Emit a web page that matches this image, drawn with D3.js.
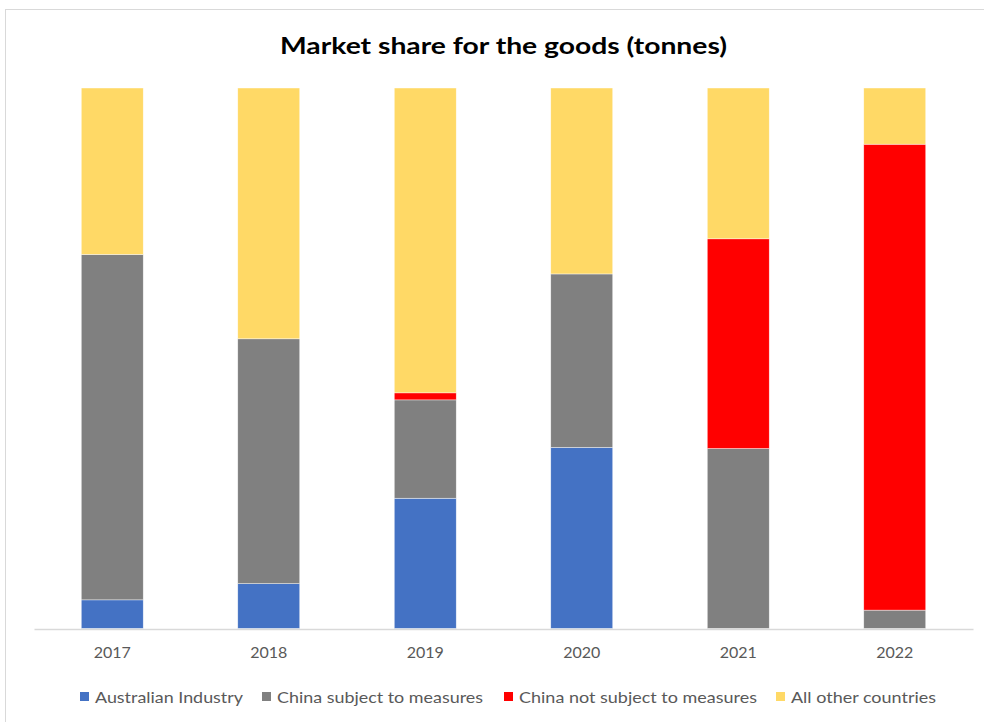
<!DOCTYPE html>
<html>
<head>
<meta charset="utf-8">
<script src="https://cdn.jsdelivr.net/npm/d3@7"></script>
<style>
  html, body { margin: 0; padding: 0; background: #fff; }
  svg { display: block; font-family: Lato, "Open Sans", sans-serif; }
</style>
</head>
<body>
<svg id="chart" width="984" height="722"></svg>
<script>
// Market share (% of tonnes) by year and source
const years = ["2017", "2018", "2019", "2020", "2021", "2022"];
const seriesNames = ["Australian Industry", "China subject to measures", "China not subject to measures", "All other countries"];
const australianIndustry = [5.3, 8.3, 24.1, 33.5, 0, 0];
const chinaSubject      = [63.9, 45.3, 18.2, 32.1, 33.3, 3.4];
const chinaNotSubject   = [0, 0, 1.3, 0, 38.8, 86.2];
const allOther          = [30.8, 46.4, 56.4, 34.4, 27.9, 10.4];
const colors = ["#4472C4", "#808080", "#FF0000", "#FFD966"];

const rows = years.map((y, i) => ({
  year: y,
  [seriesNames[0]]: australianIndustry[i],
  [seriesNames[1]]: chinaSubject[i],
  [seriesNames[2]]: chinaNotSubject[i],
  [seriesNames[3]]: allOther[i]
}));

const svg = d3.select("#chart");

// chart frame
svg.append("rect")
  .attr("x", 5.5).attr("y", 9.5)
  .attr("width", 1000).attr("height", 800)
  .attr("fill", "#fff").attr("stroke", "#d9d9d9").attr("stroke-width", 1);

// title
svg.append("text")
  .attr("x", 503.5).attr("y", 54)
  .attr("text-anchor", "middle")
  .attr("font-size", 23).attr("font-weight", 700)
  .attr("fill", "#000")
  .attr("textLength", 447).attr("lengthAdjust", "spacingAndGlyphs")
  .text("Market share for the goods (tonnes)");

const plot = { left: 34, right: 973, top: 88, bottom: 628.5 };

const x = d3.scaleBand()
  .domain(years)
  .range([plot.left, plot.right])
  .paddingInner(0.604)
  .paddingOuter(0.302);

const y = d3.scaleLinear()
  .domain([0, 100])
  .range([plot.bottom, plot.top]);

const stack = d3.stack().keys(seriesNames)
  .offset(d3.stackOffsetExpand);
const layers = stack(rows);

const g = svg.append("g");
g.selectAll("g.layer")
  .data(layers)
  .join("g")
  .attr("class", "layer")
  .attr("fill", (d, i) => colors[i])
  .selectAll("rect")
  .data(d => d)
  .join("rect")
  .attr("x", d => x(d.data.year))
  .attr("width", x.bandwidth())
  .attr("y", d => y(d[1] * 100))
  .attr("height", d => y(d[0] * 100) - y(d[1] * 100))
  .attr("stroke", "#fff")
  .attr("stroke-width", 0.6)
  .attr("stroke-opacity", 0.7);

// category axis
const xAxis = svg.append("g")
  .attr("transform", `translate(0,${plot.bottom + 0.5})`)
  .call(d3.axisBottom(x).tickSize(0).tickPadding(18));
xAxis.select(".domain").attr("stroke", "#d9d9d9").attr("stroke-width", 1.6);
xAxis.selectAll("text")
  .attr("font-family", "Lato, 'Open Sans', sans-serif")
  .attr("font-size", 16).attr("fill", "#595959");

// legend
const legendX = [80, 262, 504, 776];
const legendW = [148, 206, 238, 145];
const legend = svg.append("g").attr("transform", "translate(0,697)");
seriesNames.forEach((name, i) => {
  legend.append("rect")
    .attr("x", legendX[i]).attr("y", -5)
    .attr("width", 9).attr("height", 9)
    .attr("fill", colors[i]);
  legend.append("text")
    .attr("x", legendX[i] + 15).attr("y", 5.5)
    .attr("font-size", 16).attr("fill", "#595959")
    .attr("textLength", legendW[i]).attr("lengthAdjust", "spacingAndGlyphs")
    .text(name);
});
</script>
</body>
</html>
